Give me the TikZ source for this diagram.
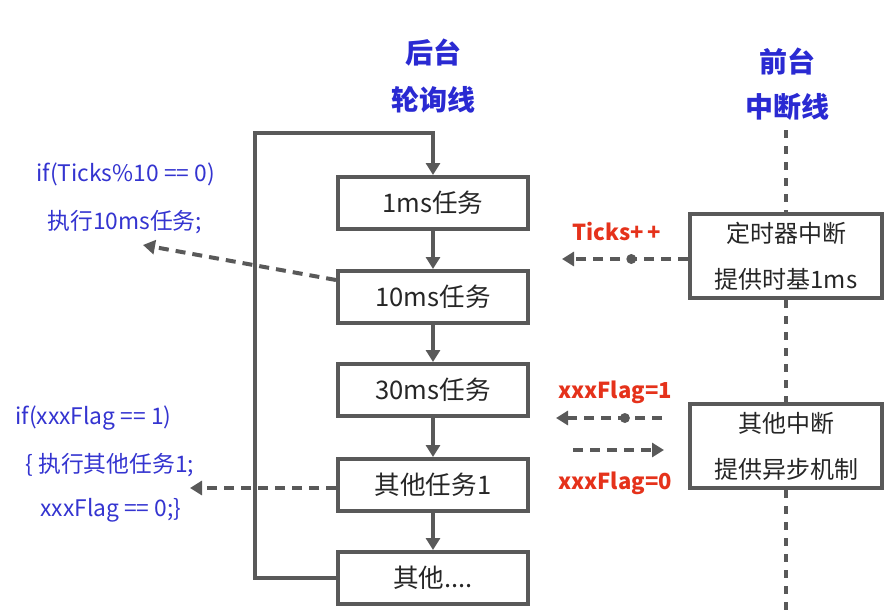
\documentclass[tikz,border=0pt]{standalone}
\usepackage{fontspec}
\setmainfont{Noto Sans CJK SC}
\usetikzlibrary{arrows.meta,calc}
\definecolor{lg}{HTML}{595959}
\definecolor{tb}{HTML}{2A2AD2}
\definecolor{lb}{HTML}{3434D0}
\definecolor{rd}{HTML}{E5321B}
\begin{document}
\begin{tikzpicture}[x=0.5pt,y=-0.5pt,
  taskbox/.style={draw=lg,line width=2pt,minimum width=95pt,minimum height=26pt,inner sep=0pt,font=\fontsize{12.8}{14}\selectfont,text=black!85},
  intbox/.style={draw=lg,line width=2pt,minimum width=96pt,minimum height=42pt,inner sep=0pt,align=center,font=\fontsize{12}{23}\selectfont,text=black!85},
  flow/.style={draw=lg,line width=2pt,-{Triangle[length=6pt,width=7pt]}},
  dflow/.style={draw=lg,line width=2pt,dash pattern=on 5pt off 3.5pt,-{Triangle[length=6pt,width=7pt]}},
  vdash/.style={draw=lg,line width=1.6pt,dash pattern=on 4pt off 4pt},
  title/.style={text=tb,font=\bfseries\fontsize{14}{16}\selectfont},
  note/.style={text=lb,font=\fontsize{11.4}{13}\selectfont,anchor=west,inner sep=0pt},
  flag/.style={text=rd,font=\bfseries\fontsize{11}{13}\selectfont},
  dotm/.style={circle,fill=lg,inner sep=0pt,minimum size=5pt}]
\useasboundingbox (0,0) rectangle (891,611);
% titles
\node[title] (h1) at (433,53) {后台};
\node[title] (h2) at (433,100) {轮询线};
\node[title] (f1) at (787,62) {前台};
\node[title] (f2) at (787,107) {中断线};
% task boxes
\node[taskbox] (t1) at (433,203) {1ms任务};
\node[taskbox] (t2) at (433,297) {10ms任务};
\node[taskbox] (t3) at (433,390) {30ms任务};
\node[taskbox] (t4) at (433,485) {其他任务1};
\node[taskbox] (t5) at (433,578) {其他....};
\draw[flow] (t1) -- (t2);
\draw[flow] (t2) -- (t3);
\draw[flow] (t3) -- (t4);
\draw[flow] (t4) -- (t5);
\coordinate (lc) at (255,133);
\draw[flow] (t5.west) -| (lc) -| (t1.north);
% interrupt boxes
\node[intbox] (i1) at (786,256) {定时器中断\\提供时基1ms};
\node[intbox] (i2) at (786,446) {其他中断\\提供异步机制};
\coordinate (vt) at (786,130);
\coordinate (vb) at (786,611);
\draw[vdash] (vt) -- (i1.north);
\draw[vdash] (i1.south) -- (i2.north);
\draw[vdash] (i2.south) -- (vb);
% Ticks
\node[flag] (lt) at (617,232) {Ticks+\,+};
\coordinate (ta) at (562,259);
\draw[dflow] ([yshift=-1.5pt]i1.west) -- (ta) node[dotm,pos=0.45] (d1) {};
% flags
\node[flag] (lf1) at (615,392) {xxxFlag=1};
\node[flag] (lf0) at (615,483) {xxxFlag=0};
\coordinate (a1s) at (662,418);
\coordinate (a1e) at (556,418);
\draw[dflow] (a1s) -- (a1e) node[dotm,pos=0.35] (d2) {};
\coordinate (a2s) at (573,450);
\coordinate (a2e) at (664,450);
\draw[dflow] (a2s) -- (a2e);
% left notes
\node[note] (n1) at (36,174) {if(Ticks\%10 == 0)};
\node[note] (n2) at (47,222) {执行10ms任务;};
\coordinate (c1) at (143,245);
\draw[dflow] ([yshift=8.5pt]t2.west) -- (c1);
\node[note] (n3) at (15,418) {if(xxxFlag == 1)};
\node[note] (n4) at (25,465) {\{ 执行其他任务1;};
\node[note] (n5) at (40,510) {xxxFlag == 0;\}};
\coordinate (c2) at (190,488);
\draw[dflow] (t4.west|-c2) -- (c2);
\end{tikzpicture}
\end{document}
